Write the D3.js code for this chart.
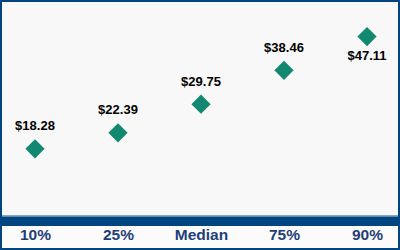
<!DOCTYPE html>
<html lang="en">
<head>
<meta charset="UTF-8">
<title>Percentiles</title>
<style>
    body{ margin:0; background:#fff; }
    #chart{ width:400px; height:250px; }
    svg text{ font-family: "Liberation Sans", Arial, sans-serif; font-weight:bold; }
</style>
</head>
<body>
<div id="chart"></div>
<script src="https://d3js.org/d3.v7.min.js"></script>
<script>
// data
const categories = ["10%", "25%", "Median", "75%", "90%"]
const wages = [18.28, 22.39, 29.75, 38.46, 47.11]
// label goes above the marker except the last one
const labelBelow = [false, false, false, false, true]

let w = 400, h = 250

let svg = d3.select("#chart")
    .append("svg")
    .attr("width", w)
    .attr("height", h)

// plot background
svg.append("rect")
    .attr("x", 0).attr("y", 0)
    .attr("width", w).attr("height", 226)
    .style("fill", "#f8f8f8")
svg.append("rect")
    .attr("x", 0).attr("y", 226)
    .attr("width", w).attr("height", h - 226)
    .style("fill", "#fbfbfb")

let xScale = d3.scalePoint()
    .domain(categories)
    .range([35, 367])

let yScale = d3.scaleLinear()
    .domain([0, 56])
    .range([220, 2])

// base bar (acts as the x axis line)
svg.append("rect")
    .attr("x", 0).attr("y", 215)
    .attr("width", w).attr("height", 1.5)
    .style("fill", "#8aa3c2")
svg.append("rect")
    .attr("x", 0).attr("y", 216.5)
    .attr("width", w).attr("height", 9.5)
    .style("fill", "#004480")

// x axis labels
let xAxis = svg.append("g")
    .attr("transform", `translate(0, 226)`)
    .call(d3.axisBottom(xScale).tickSize(0).tickPadding(3))
xAxis.select(".domain").remove()
xAxis.selectAll("text")
    .style("font-size", "15.5px")
    .style("font-family", '"Liberation Sans", Arial, sans-serif')
    .style("font-weight", "bold")
    .attr("fill", "#1f3e78")

let diamond = d3.symbol().type(d3.symbolSquare).size(185)

let pts = svg.selectAll(".pt")
    .data(categories.map((c, i) => ({cat: c, value: wages[i], below: labelBelow[i]})))
    .join("g")
    .attr("class", "pt")

pts.append("path")
    .attr("d", diamond)
    .attr("transform", d => `translate(${xScale(d.cat)}, ${yScale(d.value)}) rotate(45)`)
    .style("fill", "#138870")

pts.append("text")
    .attr("x", d => xScale(d.cat))
    .attr("y", d => yScale(d.value) + (d.below ? 23 : -18.5))
    .attr("text-anchor", "middle")
    .style("font-size", "13px")
    .style("fill", "#000")
    .text(d => "$" + d.value.toFixed(2))

// outer frame
svg.append("rect")
    .attr("x", 1).attr("y", 1)
    .attr("width", w - 2).attr("height", h - 2)
    .style("fill", "none")
    .style("stroke", "#004480")
    .style("stroke-width", 2)
</script>
</body>
</html>
